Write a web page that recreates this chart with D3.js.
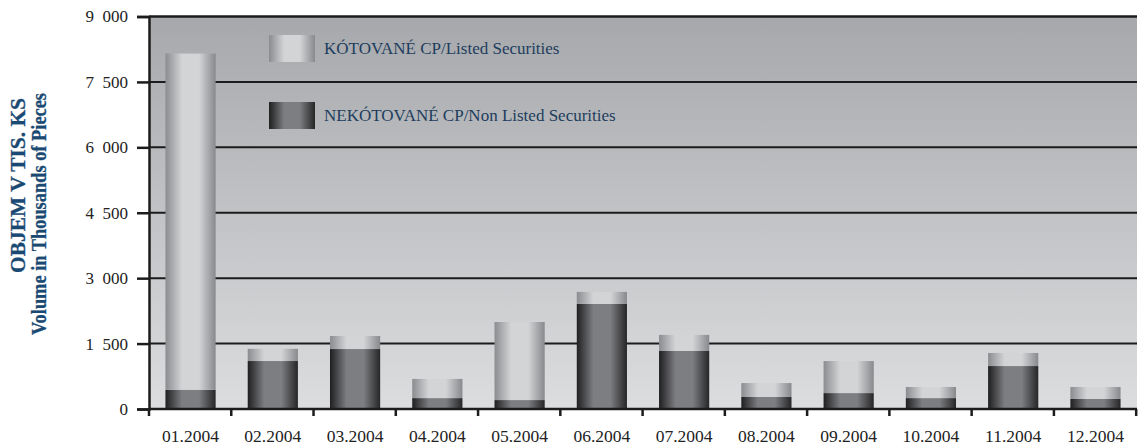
<!DOCTYPE html>
<html>

<head>
    <meta charset="UTF-8">
    <title>Objem obchodů 2004</title>
    <style>
        body { margin: 0; background: #fff; }
        svg { display: block; font-family: "Liberation Serif", "DejaVu Serif", serif; }
    </style>
</head>

<body>
    <script src="https://d3js.org/d3.v7.min.js"></script>

    <svg width="1140" height="447"></svg>

    <script>
        let svg = d3.select("svg"),
            width = +svg.attr("width"),
            height = +svg.attr("height");

        // months on the x axis
        let months = ['01.2004', '02.2004', '03.2004', '04.2004', '05.2004', '06.2004',
            '07.2004', '08.2004', '09.2004', '10.2004', '11.2004', '12.2004'];

        // volume in thousands of pieces
        let non_listed = [440, 1100, 1375, 250, 205, 2410, 1330, 275, 365, 250, 985, 230];
        let listed = [7710, 280, 300, 440, 1790, 275, 370, 320, 735, 255, 300, 275];

        let y_ticks = [0, 1500, 3000, 4500, 6000, 7500, 9000];
        let series_names = ['NEKÓTOVANÉ CP/Non Listed Securities', 'KÓTOVANÉ CP/Listed Securities'];

        let margin = { top: 16.5, right: 3, bottom: 38, left: 149 };
        let plot_w = width - margin.left - margin.right,
            plot_h = height - margin.top - margin.bottom;

        let rows = months.map((m, i) => ({ month: m, non_listed: non_listed[i], listed: listed[i] }));
        let stacked = d3.stack().keys(['non_listed', 'listed'])(rows);

        let x = d3.scaleBand().domain(months).range([0, plot_w]).paddingInner(0.39).paddingOuter(0.2);
        let y = d3.scaleLinear().domain([0, 9000]).range([plot_h, 0]);

        // gradients
        let defs = svg.append("defs");
        let bg = defs.append("linearGradient").attr("id", "bg")
            .attr("x1", 0).attr("y1", 0).attr("x2", 0).attr("y2", 1);
        bg.append("stop").attr("offset", "0%").attr("stop-color", "#a6a8ab");
        bg.append("stop").attr("offset", "100%").attr("stop-color", "#dcdddf");

        function bar_gradient(id, edgeL, mid, edgeR) {
            let g = defs.append("linearGradient").attr("id", id)
                .attr("x1", 0).attr("y1", 0).attr("x2", 1).attr("y2", 0);
            g.append("stop").attr("offset", "0%").attr("stop-color", edgeL);
            g.append("stop").attr("offset", "33%").attr("stop-color", mid);
            g.append("stop").attr("offset", "67%").attr("stop-color", mid);
            g.append("stop").attr("offset", "100%").attr("stop-color", edgeR);
        }
        bar_gradient("g_non_listed", "#1f1f20", "#7d7e82", "#262627");
        bar_gradient("g_listed", "#8a8c8f", "#d3d4d6", "#87898c");
        let fills = { non_listed: "url(#g_non_listed)", listed: "url(#g_listed)" };

        let g = svg.append("g").attr("transform", `translate(${margin.left},${margin.top})`);

        // plot background
        g.append("rect")
            .attr("width", plot_w).attr("height", plot_h)
            .attr("fill", "url(#bg)");

        // horizontal grid lines
        g.append("g").selectAll("line")
            .data(y_ticks.filter(d => d > 0)).enter()
            .append("line")
            .attr("x1", 0).attr("x2", plot_w)
            .attr("y1", d => y(d)).attr("y2", d => y(d))
            .attr("stroke", "#1c1c1c").attr("stroke-width", 2);

        // bars
        g.append("g").selectAll("g")
            .data(stacked).enter()
            .append("g")
            .attr("fill", d => fills[d.key])
            .selectAll("rect")
            .data(d => d).enter()
            .append("rect")
            .attr("x", d => x(d.data.month))
            .attr("width", x.bandwidth())
            .attr("y", d => y(d[1]))
            .attr("height", d => y(d[0]) - y(d[1]));

        // y axis
        let y_axis = g.append("g")
            .call(d3.axisLeft(y).tickValues(y_ticks).tickSize(12).tickPadding(9)
                .tickFormat(d => d3.format(",")(d).replace(/,/g, "\u2007")));
        y_axis.attr("font-family", "Liberation Serif").attr("font-size", 17);
        y_axis.select(".domain").attr("stroke", "#1c1c1c").attr("stroke-width", 2.5);
        y_axis.selectAll(".tick line").attr("stroke", "#1c1c1c").attr("stroke-width", 2.5);
        y_axis.selectAll("text").attr("fill", "#222");

        // x axis: ticks sit on the band edges
        let x_axis = g.append("g").attr("transform", `translate(0,${plot_h})`);
        x_axis.append("line")
            .attr("x1", 0).attr("x2", plot_w)
            .attr("stroke", "#1c1c1c").attr("stroke-width", 2.5);
        let edges = d3.range(months.length + 1).map(i => i * x.step());
        x_axis.selectAll(".edge")
            .data(edges).enter()
            .append("line")
            .attr("class", "edge")
            .attr("x1", d => d).attr("x2", d => d)
            .attr("y1", 0).attr("y2", 7)
            .attr("stroke", "#1c1c1c").attr("stroke-width", 2.5);
        x_axis.selectAll("text")
            .data(months).enter()
            .append("text")
            .attr("x", d => x(d) + x.bandwidth() / 2)
            .attr("y", 33)
            .attr("text-anchor", "middle")
            .attr("font-size", 17.5)
            .attr("fill", "#222")
            .text(d => d);

        // top border
        g.append("line")
            .attr("x1", 0).attr("x2", plot_w)
            .attr("y1", 0).attr("y2", 0)
            .attr("stroke", "#1c1c1c").attr("stroke-width", 2);

        // y axis title, two lines (squeezed along the text like the original)
        let title = svg.append("g")
            .attr("font-weight", "bold")
            .attr("font-size", 21)
            .attr("fill", "#1a4a73")
            .attr("stroke", "#1a4a73")
            .attr("stroke-width", 0.3);
        title.append("text")
            .attr("transform", "translate(25,185.5) rotate(-90)")
            .attr("text-anchor", "middle")
            .attr("textLength", 175).attr("lengthAdjust", "spacingAndGlyphs")
            .text("OBJEM V TIS. KS");
        title.append("text")
            .attr("transform", "translate(46,214) rotate(-90)")
            .attr("text-anchor", "middle")
            .attr("textLength", 242).attr("lengthAdjust", "spacingAndGlyphs")
            .text("Volume in Thousands of Pieces");

        // legend
        let legend = g.append("g").selectAll("g")
            .data(['listed', 'non_listed']).enter()
            .append("g")
            .attr("transform", (d, i) => `translate(${269 - margin.left},${18.5 + i * 67})`);
        legend.append("rect")
            .attr("width", 46).attr("height", 27)
            .attr("fill", d => fills[d]);
        legend.append("text")
            .attr("x", 55).attr("y", 19)
            .attr("font-size", 17)
            .attr("fill", "#1d3d5e")
            .text(d => d === 'listed' ? series_names[1] : series_names[0]);
    </script>
</body>

</html>
